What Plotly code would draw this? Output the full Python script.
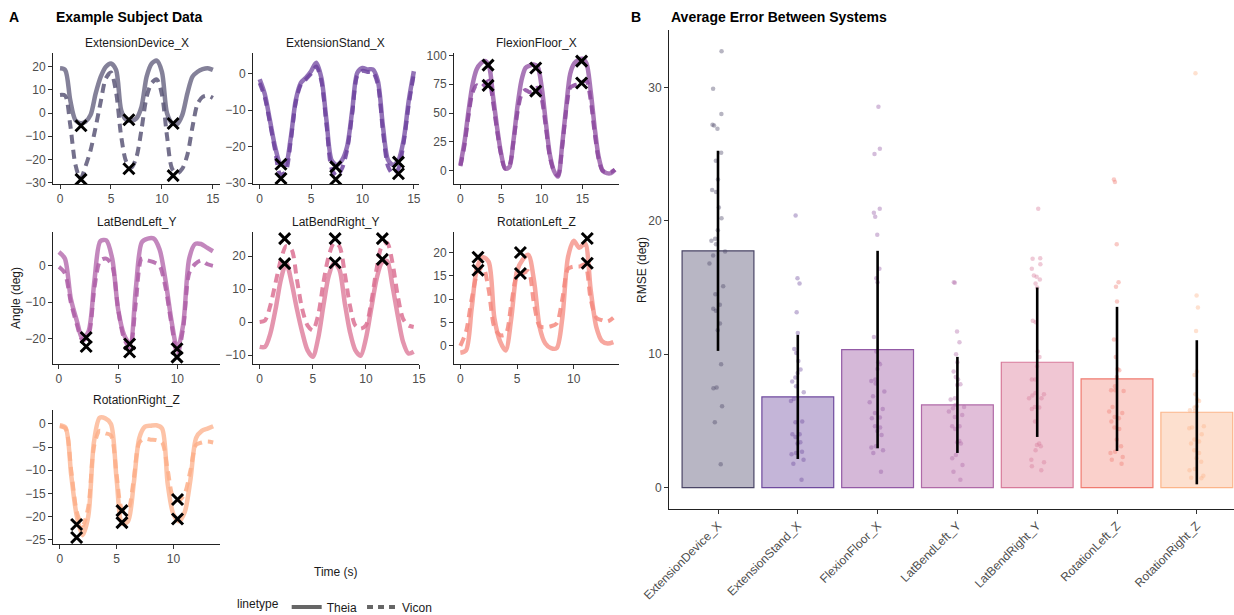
import plotly.graph_objects as go

W, H = 1234, 615

# ---------------- DATA ----------------
TIME = [0.0, 0.5, 1.0, 1.5, 2.0, 2.5, 3.0, 3.5, 4.0, 4.5, 5.0, 5.5, 6.0, 6.5, 7.0, 7.5,
        8.0, 8.5, 9.0, 9.5, 10.0, 10.5, 11.0, 11.5, 12.0, 12.5, 13.0, 13.5, 14.0, 14.5,
        15.0, 15.5, 16.0, 16.5, 17.0, 17.5, 18.0, 18.5, 19.0]

MOVEMENTS = ["ExtensionDevice_X", "ExtensionStand_X", "FlexionFloor_X", "LatBendLeft_Y",
             "LatBendRight_Y", "RotationLeft_Z", "RotationRight_Z"]

ext_dev_theia = [19.3, 18.6, 5.6, -3.0, -4.4, -3.7, -0.8, 8.5, 15.7, 20.0, 21.4, 18.6, 1.3, -3.0, -3.3,
                 -2.3, 2.8, 15.7, 21.4, 22.6, 17.8, -0.1, -4.4, -4.7, -0.8, 8.5, 15.7, 17.8, 18.9, 19.3, 18.6]
ext_dev_vicon = [7.8, 7.5, -5.0, -22.0, -28.5, -23.0, -16.0, -6.0, 5.0, 15.0, 17.5, 9.0, -10.0, -21.0, -23.5,
                 -19.0, -7.0, 7.0, 13.0, 14.5, 8.0, -10.0, -24.0, -26.0, -24.0, -18.0, -6.0, 4.0, 7.0, 7.5, 6.5]
ext_stand_theia = [-1.5, -5.6, -12.8, -20.0, -24.6, -25.0, -18.0, -7.4, -2.5, -1.1, 0.7, 3.0, -1.1, -12.8, -23.7,
                   -25.0, -23.7, -20.0, -10.1, 0.3, 1.6, 1.2, 1.2, -2.0, -14.6, -23.7, -25.0, -23.7, -18.2, -7.4, 0.7]
ext_stand_vicon = [-2.5, -6.5, -13.5, -21.0, -27.5, -27.0, -19.0, -8.0, -3.0, -1.5, 0.0, 2.0, -2.0, -14.0, -26.0,
                   -28.0, -26.0, -21.0, -11.0, -0.5, 0.8, 0.5, 0.5, -3.0, -16.0, -25.5, -27.5, -26.0, -19.0, -8.5, 0.0]
flex_floor_theia = [5, 25, 52, 75, 88, 93, 95, 91, 65, 38, 15, 2, 3, 25, 55, 78, 89, 91, 92, 90,
                    72, 42, 14, 0, -5, 22, 55, 84, 93, 96, 97, 93, 70, 38, 12, 0, -2, -2, 1]
flex_floor_vicon = [4, 22, 48, 68, 74, 72, 75, 78, 60, 35, 14, 2, 4, 24, 50, 66, 70, 68, 69, 72,
                    62, 38, 12, 0, -4, 20, 52, 72, 74, 75, 77, 78, 62, 33, 10, 0, -1, -1, 1]
lat_left_theia = [3.8, 2.0, -9.0, -15.0, -20.0, -18.0, -4.0, 6.8, 7.0, 2.0, -12.0, -19.0, -21.5, -6.0,
                  6.5, 7.5, 7.5, 4.5, -4.0, -15.0, -23.0, -16.0, 2.0, 6.0, 6.0, 5.0, 4.0]
lat_left_vicon = [-0.3, -2.0, -10.0, -16.0, -20.5, -19.0, -6.0, 1.5, 2.0, 0.0, -12.0, -20.0, -22.5, -10.0,
                  2.0, 1.5, 1.0, 0.0, -6.0, -16.0, -24.5, -17.0, -2.0, 0.5, 1.5, 0.5, 0.0]
lat_right_theia = [-7.5, -7.5, -3.5, 4.0, 13.0, 18.0, 12.0, 4.0, -3.0, -8.5, -10.5, -5.0, 5.0, 14.0, 18.0,
                   16.0, 6.0, -3.0, -8.5, -10.2, -5.0, 4.0, 13.0, 18.0, 18.5, 11.0, 2.0, -6.0, -9.5, -9.0]
lat_right_vicon = [0.0, 0.5, 5.0, 12.0, 19.0, 23.0, 22.0, 13.0, 4.0, -1.0, -2.5, 2.0, 12.0, 20.0, 24.0,
                   23.0, 15.0, 5.0, -1.0, -2.0, -1.0, 6.0, 16.0, 23.0, 24.0, 18.0, 8.0, 1.0, -1.0, -1.5]
rot_left_theia = [-1.5, -1.0, 8.0, 17.0, 19.0, 18.0, 6.0, 1.0, -1.0, 6.0, 16.0, 18.5, 19.5, 14.0,
                  4.0, 0.5, -0.5, -0.5, 6.0, 19.0, 22.5, 21.0, 22.0, 12.0, 4.0, 1.0, 0.5, 0.8]
rot_left_vicon = [0.0, 3.0, 10.0, 15.5, 17.0, 12.0, 4.0, 2.3, 2.5, 9.0, 15.0, 15.5, 16.0, 9.0,
                  4.2, 4.0, 4.2, 4.8, 10.0, 16.5, 17.0, 17.0, 17.5, 10.0, 6.0, 5.5, 5.2, 6.0]
rot_right_theia = [-0.3, -0.8, -11.0, -20.0, -24.0, -20.0, -4.0, 1.3, 1.2, 0.0, -12.0, -21.5, -21.0, -13.0,
                   -3.0, -0.6, -0.4, -0.3, -1.0, -13.0, -19.5, -21.0, -19.0, -12.0, -3.0, -1.5, -1.0, -0.5]
rot_right_vicon = [-0.5, -1.0, -10.0, -19.0, -22.0, -18.0, -5.0, -1.5, -2.0, -2.5, -11.0, -18.5, -18.5, -12.0,
                   -4.0, -3.2, -3.4, -3.5, -4.0, -10.0, -16.0, -16.5, -15.0, -10.0, -4.5, -4.0, -3.8, -4.0]

THEIA = [ext_dev_theia, ext_stand_theia, flex_floor_theia, lat_left_theia,
         lat_right_theia, rot_left_theia, rot_right_theia]
VICON = [ext_dev_vicon, ext_stand_vicon, flex_floor_vicon, lat_left_vicon,
         lat_right_vicon, rot_left_vicon, rot_right_vicon]

# peak markers (time, Theia value, Vicon value)
peak_t = [[2.06, 6.76, 11.1], [2.07, 7.4, 13.5], [3.4, 9.26, 14.9], [2.3, 5.97, 9.97],
          [2.35, 7.1, 11.55], [1.56, 5.3, 11.2], [1.48, 5.47, 10.36]]
peak_theia = [[-5.5, -2.9, -4.5], [-24.8, -25.5, -24.2], [91.5, 89.0, 95.0], [-19.7, -21.5, -22.8],
              [17.7, 18.0, 19.0], [19.0, 20.0, 23.0], [-24.5, -21.3, -20.5]]
peak_vicon = [[-28.6, -24.0, -27.0], [-28.7, -28.9, -27.4], [74.0, 69.0, 76.0], [-22.2, -23.7, -25.1],
              [25.3, 25.3, 25.3], [16.2, 15.5, 17.7], [-21.7, -18.7, -16.3]]

# Panel B: RMSE per subject
rmse_ext_dev = [32.7, 29.9, 28.0, 27.2, 27.15, 26.9, 25.1, 24.5, 23.1, 22.3, 22.15, 21.0, 20.2, 19.3,
                18.65, 18.5, 18.25, 17.7, 17.4, 16.8, 15.1, 14.5, 13.7, 13.4, 13.25, 12.3, 11.8, 9.25,
                7.5, 7.45, 6.1, 4.9, 1.75]
rmse_ext_stand = [20.4, 15.7, 15.3, 13.15, 11.6, 10.4, 10.1, 9.5, 8.85, 8.6, 8.25, 7.95, 7.6, 7.15, 6.65,
                  6.5, 4.9, 4.95, 4.0, 4.0, 3.8, 3.4, 3.3, 2.7, 2.6, 2.5, 2.1, 1.8, 0.6]
rmse_flex_floor = [28.55, 25.4, 25.0, 20.9, 20.6, 20.3, 18.95, 16.4, 15.7, 15.4, 11.3, 10.2, 9.4, 9.25,
                   8.9, 8.1, 8.0, 7.8, 7.2, 6.85, 6.4, 5.9, 5.6, 5.25, 5.2, 4.6, 4.5, 4.25, 3.95, 3.1,
                   3.0, 2.8, 2.6, 1.2]
rmse_lat_left = [15.4, 15.35, 11.7, 10.9, 10.0, 9.4, 8.7, 8.3, 8.1, 7.75, 7.7, 6.7, 6.6, 6.2, 6.05, 5.95,
                 5.7, 5.45, 5.3, 4.6, 4.6, 4.4, 3.5, 3.4, 3.3, 2.45, 2.2, 1.7, 1.2, 0.6]
rmse_lat_right = [20.9, 17.2, 17.15, 16.75, 16.4, 15.9, 15.8, 15.6, 15.3, 15.0, 12.5, 12.4, 10.2, 9.8,
                  9.1, 8.1, 8.1, 7.1, 7.0, 6.9, 6.7, 6.7, 6.05, 6.0, 5.9, 4.95, 3.3, 3.2, 3.1, 2.8,
                  2.1, 1.9, 1.6, 1.3]
rmse_rot_left = [23.1, 22.9, 18.25, 15.4, 15.05, 13.95, 11.1, 9.8, 8.9, 8.8, 8.3, 7.6, 7.3, 7.3, 7.25,
                 6.05, 5.7, 5.6, 5.3, 5.2, 4.95, 4.5, 4.4, 3.6, 3.1, 2.7, 2.6, 2.3, 2.1, 1.8]
rmse_rot_right = [31.05, 14.4, 13.5, 11.75, 8.7, 8.45, 7.0, 6.6, 6.5, 6.1, 6.0, 5.8, 5.75, 4.6, 4.5, 4.45,
                  4.0, 3.6, 3.45, 3.3, 2.8, 2.6, 2.2, 1.95, 1.4, 1.3, 0.9, 0.75, 0.7]
RMSE = [rmse_ext_dev, rmse_ext_stand, rmse_flex_floor, rmse_lat_left, rmse_lat_right,
        rmse_rot_left, rmse_rot_right]

rmse_mean = [17.75, 6.8, 10.35, 6.2, 9.4, 8.15, 5.65]
rmse_sd = [7.5, 4.65, 7.4, 3.6, 5.6, 5.4, 5.4]

# ---------------- STYLE / LAYOUT ----------------
FONT = "Liberation Sans, Arial, sans-serif"
LINE_COL = ['#5c5878', '#6f45a0', '#8d4aa0', '#b060a8', '#dc7294', '#f58a80', '#fdb08a']
BAR_LINE = ['#4a4566', '#6f4a9e', '#935aa6', '#b06aa8', '#d77a9a', '#f07b70', '#fcb58a']
BAR_FILL = ['#b8b6c4', '#c4b5d8', '#d5b8d8', '#e1bed9', '#f0c6d3', '#fad0cb', '#fde0cf']

# pixel boxes of facets: (left, right, top, bottom)
COLS = [(53, 220), (253, 419), (454, 619)]
ROWS = [(53, 184), (232, 364), (410, 544)]
XR = [(-0.69, 15.7), (-0.65, 15.5), (-0.79, 19.5), (-0.5, 13.6), (-0.63, 15.0), (-0.56, 14.0), (-0.6, 14.1)]
YR = [(-30.6, 25.9), (-30.2, 5.7), (-11.4, 102), (-27.0, 9.3), (-12.7, 27.3), (-3.9, 24.4), (-25.9, 3.0)]
YT = [[-30, -20, -10, 0, 10, 20], [-30, -20, -10, 0], [0, 25, 50, 75, 100], [-20, -10, 0],
      [-10, 0, 10, 20], [0, 5, 10, 15, 20], [-25, -20, -15, -10, -5, 0]]
XT = [[0, 5, 10, 15], [0, 5, 10, 15], [0, 5, 10, 15], [0, 5, 10], [0, 5, 10, 15], [0, 5, 10], [0, 5, 10]]


def px(x):
    return x / W


def py(y):
    return 1 - y / H


axis_common = dict(showline=True, linecolor='#222222', linewidth=1, ticks='outside', ticklen=4,
                   tickcolor='#333333', tickwidth=1, showgrid=False, zeroline=False, automargin=False,
                   tickfont=dict(family=FONT, size=12, color='#4d4d4d'))

fig = go.Figure()
layout = dict(width=W, height=H, margin=dict(l=0, r=0, t=0, b=0, pad=0, autoexpand=False),
              plot_bgcolor='white', paper_bgcolor='white', font=dict(family=FONT, size=12, color='#1a1a1a'),
              showlegend=True)
annotations = []

for i, name in enumerate(MOVEMENTS):
    r, c = divmod(i, 3)
    (l, rr), (t, b) = COLS[c], ROWS[r]
    k = i + 1
    xa = 'xaxis' if k == 1 else f'xaxis{k}'
    ya = 'yaxis' if k == 1 else f'yaxis{k}'
    xref = 'x' if k == 1 else f'x{k}'
    yref = 'y' if k == 1 else f'y{k}'
    layout[xa] = dict(domain=[px(l), px(rr)], anchor=yref, range=list(XR[i]), tickvals=XT[i], **axis_common)
    layout[ya] = dict(domain=[py(b), py(t)], anchor=xref, range=list(YR[i]), tickvals=YT[i], **axis_common)
    n_th = len(THEIA[i])
    n_vi = len(VICON[i])
    fig.add_trace(go.Scatter(x=TIME[:n_th], y=THEIA[i], mode='lines', xaxis=xref, yaxis=yref,
                             line=dict(color=LINE_COL[i], width=4.5, shape='spline', smoothing=0.8),
                             opacity=0.75, showlegend=False, hoverinfo='skip'))
    fig.add_trace(go.Scatter(x=TIME[:n_vi], y=VICON[i], mode='lines', xaxis=xref, yaxis=yref,
                             line=dict(color=LINE_COL[i], width=4, dash='9px,6px', shape='spline', smoothing=0.8),
                             opacity=0.85, showlegend=False, hoverinfo='skip'))
    fig.add_trace(go.Scatter(x=peak_t[i] + peak_t[i], y=peak_theia[i] + peak_vicon[i], mode='markers',
                             xaxis=xref, yaxis=yref,
                             marker=dict(symbol='x-thin', size=11, color='black',
                                         line=dict(width=3, color='black')),
                             showlegend=False, hoverinfo='skip'))
    annotations.append(dict(text=name, x=px((l + rr) / 2), y=py(t - 10), xref='paper', yref='paper',
                            showarrow=False, xanchor='center', yanchor='middle',
                            font=dict(family=FONT, size=12, color='#1a1a1a')))

# legend dummy traces
fig.add_trace(go.Scatter(x=[None], y=[None], mode='lines', name='Theia',
                         line=dict(color='#666666', width=4), xaxis='x', yaxis='y'))
fig.add_trace(go.Scatter(x=[None], y=[None], mode='lines', name='Vicon',
                         line=dict(color='#666666', width=4, dash='6px,5px'), xaxis='x', yaxis='y'))

# ---------------- Panel B ----------------
layout['xaxis8'] = dict(domain=[px(669), px(1234)], anchor='y8', type='category',
                        range=[-0.614, 6.466], tickangle=-45, **axis_common)
layout['yaxis8'] = dict(domain=[py(509), py(30)], anchor='x8', range=[-1.6, 34.3],
                        tickvals=[0, 10, 20, 30], **axis_common)

fig.add_trace(go.Bar(x=MOVEMENTS, y=rmse_mean, xaxis='x8', yaxis='y8', width=0.9,
                     marker=dict(color=BAR_FILL, line=dict(color=BAR_LINE, width=1.2)),
                     showlegend=False, hoverinfo='skip'))
for i, name in enumerate(MOVEMENTS):
    fig.add_trace(go.Box(x=[name] * len(RMSE[i]), y=RMSE[i], xaxis='x8', yaxis='y8',
                         boxpoints='all', jitter=0.4, pointpos=0, width=0.55,
                         fillcolor='rgba(0,0,0,0)', line=dict(width=0, color='rgba(0,0,0,0)'),
                         marker=dict(color=BAR_LINE[i], size=4.5, opacity=0.4),
                         showlegend=False, hoverinfo='skip'))
fig.add_trace(go.Scatter(x=MOVEMENTS, y=rmse_mean, xaxis='x8', yaxis='y8', mode='markers',
                         marker=dict(size=1, opacity=0),
                         error_y=dict(type='data', array=rmse_sd, visible=True, color='black',
                                      thickness=2.6, width=0),
                         showlegend=False, hoverinfo='skip'))

# ---------------- Text ----------------
def txt(s, x, y, size=12, bold=False, angle=0, xanchor='center', color='#1a1a1a'):
    annotations.append(dict(text=f"<b>{s}</b>" if bold else s, x=px(x), y=py(y), xref='paper', yref='paper',
                            showarrow=False, xanchor=xanchor, yanchor='middle', textangle=angle,
                            font=dict(family=FONT, size=size, color=color)))


txt('A', 7, 17, size=14, bold=True, xanchor='left', color='black')
txt('Example Subject Data', 54, 17, size=14, bold=True, xanchor='left', color='black')
txt('B', 629, 17, size=14, bold=True, xanchor='left', color='black')
txt('Average Error Between Systems', 669, 17, size=14, bold=True, xanchor='left', color='black')
txt('Angle (deg)', 16, 298, size=12, angle=-90)
txt('Time (s)', 336, 572, size=12)
txt('RMSE (deg)', 642, 270, size=12, angle=-90)

layout['annotations'] = annotations
layout['legend'] = dict(orientation='h', x=px(336), y=py(607), xanchor='center', yanchor='middle',
                        title=dict(text='linetype', font=dict(family=FONT, size=12, color='#1a1a1a')),
                        font=dict(family=FONT, size=12, color='#1a1a1a'), itemwidth=30,
                        bgcolor='rgba(0,0,0,0)')
fig.update_layout(**layout)

fig.write_html("out.html", config={'displayModeBar': False},
               post_script="document.body.style.margin='0';document.body.style.overflow='hidden';")
